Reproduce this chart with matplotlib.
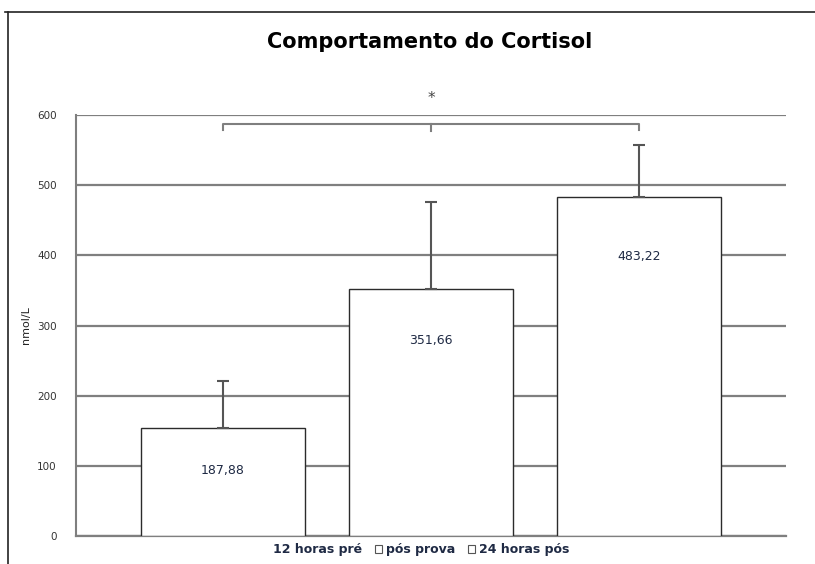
import matplotlib.pyplot as plt
from matplotlib.patches import Patch
from matplotlib.lines import Line2D

# data
groups = ["12 horas pré", "pós prova", "24 horas pós"]
bar_heights = [154.0, 351.66, 483.22]
bar_errors = [67.0, 124.0, 74.0]
value_labels = ["187,88", "351,66", "483,22"]
yticks = [0, 100, 200, 300, 400, 500, 600]

# layout only
label_y = [94, 278, 399]
bracket_y = 587
star_y = 624

GRID = "#7f7f7f"

fig = plt.figure(figsize=(8.15, 5.64), dpi=100, facecolor="white")
ax = fig.add_axes([0.0933, 0.0496, 0.8711, 0.7465])

x = list(range(len(groups)))
ax.bar(x, bar_heights, width=0.79, color="white", edgecolor="#2b2b2b",
       linewidth=1.0, zorder=3)
ax.errorbar(x, bar_heights, yerr=[[0, 0, 0], bar_errors], fmt="none",
            ecolor="#555555", elinewidth=1.5, capsize=4, capthick=1.5, zorder=4)

for xi, ly, txt in zip(x, label_y, value_labels):
    ax.text(xi, ly, txt, ha="center", va="center", fontsize=9,
            color="#1f2a44", zorder=5)

ax.set_xlim(-0.707, 2.707)
ax.set_ylim(0, 600)
ax.set_yticks(yticks)
ax.set_yticklabels([str(v) for v in yticks], fontsize=7.5, color="#333333")
ax.set_xticks([])
ax.tick_params(axis="y", length=0, pad=14)
ax.yaxis.grid(True, color=GRID, linewidth=1.6, zorder=0)
ax.set_axisbelow(True)
for side in ["top", "right"]:
    ax.spines[side].set_visible(False)
ax.spines["left"].set_color(GRID)
ax.spines["left"].set_linewidth(1.5)
ax.spines["bottom"].set_color(GRID)
ax.spines["bottom"].set_linewidth(1.6)
ax.set_ylabel("nmol/L", fontsize=8, color="#222222", labelpad=4)

# significance bracket
bx0, bx1, bxm = x[0], x[-1], x[1]
ax.add_line(Line2D([bx0, bx0, bx1, bx1], [bracket_y - 9, bracket_y, bracket_y, bracket_y - 9],
                   color=GRID, linewidth=1.5, clip_on=False, zorder=5))
ax.add_line(Line2D([bxm, bxm], [bracket_y, bracket_y - 10],
                   color=GRID, linewidth=1.5, clip_on=False, zorder=5))
ax.text(bxm, star_y, "*", ha="center", va="center", fontsize=11,
        color="#444444", clip_on=False)

fig.text(0.527, 0.925, "Comportamento do Cortisol", ha="center", va="center",
         fontsize=15, fontweight="bold", color="black")

# legend along the bottom
handles = [Patch(facecolor="white", edgecolor="white"),
           Patch(facecolor="white", edgecolor="#555555", linewidth=0.8),
           Patch(facecolor="white", edgecolor="#555555", linewidth=0.8)]
fig.legend(handles, groups, loc="center", bbox_to_anchor=(0.51, 0.025), ncol=3,
           frameon=False, fontsize=9, prop={"weight": "bold", "size": 9},
           handlelength=0.6, handleheight=0.6, handletextpad=0.3,
           columnspacing=1.0, labelcolor="#1f2a44")

# outer frame (left and top edges visible)
fig.add_artist(Line2D([0.0098, 0.0098], [0.0, 0.979], color="#222222",
                      linewidth=1.2, transform=fig.transFigure))
fig.add_artist(Line2D([0.006, 1.0], [0.979, 0.979], color="#222222",
                      linewidth=1.2, transform=fig.transFigure))

fig.savefig("out.png", dpi=100)
